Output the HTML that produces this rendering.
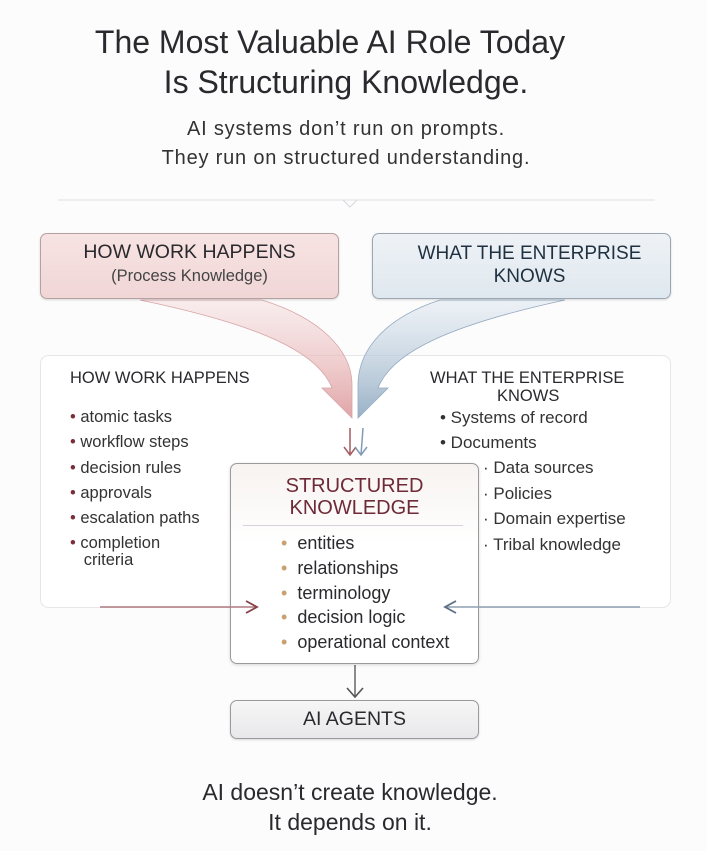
<!DOCTYPE html>
<html><head><meta charset="utf-8"><style>
html,body{margin:0;padding:0;background:#fcfcfd;}
body{width:707px;height:851px;position:relative;overflow:hidden;font-family:"Liberation Sans",sans-serif;color:#2a2a2e;}
.t{position:absolute;white-space:nowrap;line-height:1;}
.c{text-align:center;}
.box{position:absolute;box-sizing:border-box;border-radius:7px;}
</style></head><body>
<div class="t c" style="left:0;width:660px;top:26px;font-size:32px;">The Most Valuable AI Role Today</div>
<div class="t c" style="left:0;width:692px;top:66px;font-size:32px;">Is Structuring Knowledge.</div>
<div class="t c" style="left:0;width:692px;top:119px;font-size:20px;letter-spacing:0.8px;color:#333;">AI systems don’t run on prompts.</div>
<div class="t c" style="left:0;width:692px;top:148px;font-size:20px;letter-spacing:0.8px;color:#333;">They run on structured understanding.</div>

<svg style="position:absolute;left:0;top:0" width="707" height="851">
<defs>
<linearGradient id="gp" x1="0" y1="0" x2="0" y2="1"><stop offset="0" stop-color="#f3d4d4" stop-opacity="0.4"/><stop offset="1" stop-color="#e0a4a6"/></linearGradient>
<linearGradient id="gb" x1="0" y1="0" x2="0" y2="1"><stop offset="0" stop-color="#d4e0ea" stop-opacity="0.4"/><stop offset="1" stop-color="#98b0c6"/></linearGradient>
</defs>
<line x1="58" y1="200" x2="655" y2="200" stroke="#e0e0e4" stroke-width="1"/>
<polyline points="343,200 350,207 357,200" fill="none" stroke="#d8d8dc"/>
<rect x="40.5" y="355.5" width="630" height="252" rx="8" fill="#fff" stroke="#e6e6ea"/>
<path d="M140,300 L262,300 C320,318 352,350 352,385 L352,418 L340,406 L322,388 L332,388 C318,352 260,325 140,300 Z" fill="url(#gp)" stroke="#d8a4a6" stroke-width="0.8"/>
<path d="M565,300 L440,300 C385,318 358,350 358,385 L358,418 L370,406 L388,388 L378,388 C392,352 450,325 565,300 Z" fill="url(#gb)" stroke="#93aac0" stroke-width="0.8"/>
<path d="M350,428 L350,455 M344,447 L350,455 L356,447" fill="none" stroke="#a55a60" stroke-width="1.5"/>
<path d="M363,428 L361,455 M355,447 L361,455 L367,447" fill="none" stroke="#7f9bb5" stroke-width="1.5"/>
<line x1="355" y1="665" x2="355" y2="697" stroke="#666" stroke-width="1.5"/>
<polyline points="347,688 355,697 363,688" fill="none" stroke="#555" stroke-width="1.6"/>
</svg>

<div class="box" style="left:40px;top:233px;width:299px;height:66px;background:linear-gradient(#f7e3e3,#f1d6d6);border:1.5px solid #b5a0a2;box-shadow:0 1px 2px rgba(0,0,0,.15);"></div>
<div class="t c" style="left:40px;width:299px;top:243px;font-size:19.5px;">HOW WORK HAPPENS</div>
<div class="t c" style="left:40px;width:299px;top:268px;font-size:16.5px;color:#444;">(Process Knowledge)</div>
<div class="box" style="left:372px;top:233px;width:299px;height:66px;background:linear-gradient(#eef2f6,#dfe8ef);border:1.5px solid #9aa6b2;box-shadow:0 1px 2px rgba(0,0,0,.15);"></div>
<div class="t c" style="left:380px;width:299px;top:244px;font-size:19px;color:#1f3040;">WHAT THE ENTERPRISE</div>
<div class="t c" style="left:380px;width:299px;top:267px;font-size:19px;color:#1f3040;">KNOWS</div>

<div class="t" style="left:70px;top:370px;font-size:16.5px;">HOW WORK HAPPENS</div>
<div style="position:absolute;left:70px;top:405px;font-size:16.5px;line-height:25.3px;color:#333;">
<div><span style="color:#7a2e3a">•</span> atomic tasks</div>
<div><span style="color:#7a2e3a">•</span> workflow steps</div>
<div><span style="color:#7a2e3a">•</span> decision rules</div>
<div><span style="color:#7a2e3a">•</span> approvals</div>
<div><span style="color:#7a2e3a">•</span> escalation paths</div>
<div style="line-height:17px;margin-top:4px;"><span style="color:#7a2e3a">•</span> completion<br>&nbsp;&nbsp;&nbsp;criteria</div>
</div>
<div class="t" style="left:430px;top:370px;font-size:16.5px;">WHAT THE ENTERPRISE</div>
<div class="t" style="left:497px;top:388px;font-size:16.5px;">KNOWS</div>
<div style="position:absolute;left:440px;top:405px;font-size:17px;line-height:25.3px;color:#333;">
<div>• Systems of record</div>
<div>• Documents</div>
</div>
<div style="position:absolute;left:483px;top:455px;font-size:17px;line-height:25.7px;color:#333;">
<div>· Data sources</div>
<div>· Policies</div>
<div>· Domain expertise</div>
<div>· Tribal knowledge</div>
</div>

<div class="box" style="left:230px;top:463px;width:249px;height:201px;background:linear-gradient(#f7f3f1,#fff 40%);border:1.5px solid #9a9a9e;box-shadow:0 1px 3px rgba(0,0,0,.15);"></div>
<div class="t c" style="left:230px;width:249px;top:476px;font-size:20px;color:#6e2a36;">STRUCTURED</div>
<div class="t c" style="left:230px;width:249px;top:498px;font-size:20px;color:#6e2a36;">KNOWLEDGE</div>
<div style="position:absolute;left:243px;top:525px;width:220px;height:1px;background:#d4d4d6"></div>
<div style="position:absolute;left:281px;top:531px;font-size:18px;line-height:24.8px;color:#2a2a2e;">
<div><span style="color:#c9a070">•</span>&nbsp; entities</div>
<div><span style="color:#c9a070">•</span>&nbsp; relationships</div>
<div><span style="color:#c9a070">•</span>&nbsp; terminology</div>
<div><span style="color:#c9a070">•</span>&nbsp; decision logic</div>
<div><span style="color:#c9a070">•</span>&nbsp; operational context</div>
</div>

<svg style="position:absolute;left:0;top:0" width="707" height="851">
<line x1="100" y1="607" x2="256" y2="607" stroke="#b07a80" stroke-width="1.5"/>
<polyline points="246,601 257,607 246,613" fill="none" stroke="#8a3e48" stroke-width="1.8"/>
<line x1="446" y1="607" x2="640" y2="607" stroke="#8d9fb2" stroke-width="1.5"/>
<polyline points="456,601 445,607 456,613" fill="none" stroke="#5d6f83" stroke-width="1.8"/>
</svg>

<div class="box" style="left:230px;top:700px;width:249px;height:39px;background:linear-gradient(#f6f6f6,#e8e8ea);border:1.5px solid #9a9a9e;box-shadow:0 1px 2px rgba(0,0,0,.15);"></div>
<div class="t c" style="left:230px;width:249px;top:710px;font-size:19.5px;">AI AGENTS</div>

<div class="t c" style="left:0;width:700px;top:781px;font-size:23px;">AI doesn’t create knowledge.</div>
<div class="t c" style="left:0;width:700px;top:811px;font-size:23px;">It depends on it.</div>
</body></html>
